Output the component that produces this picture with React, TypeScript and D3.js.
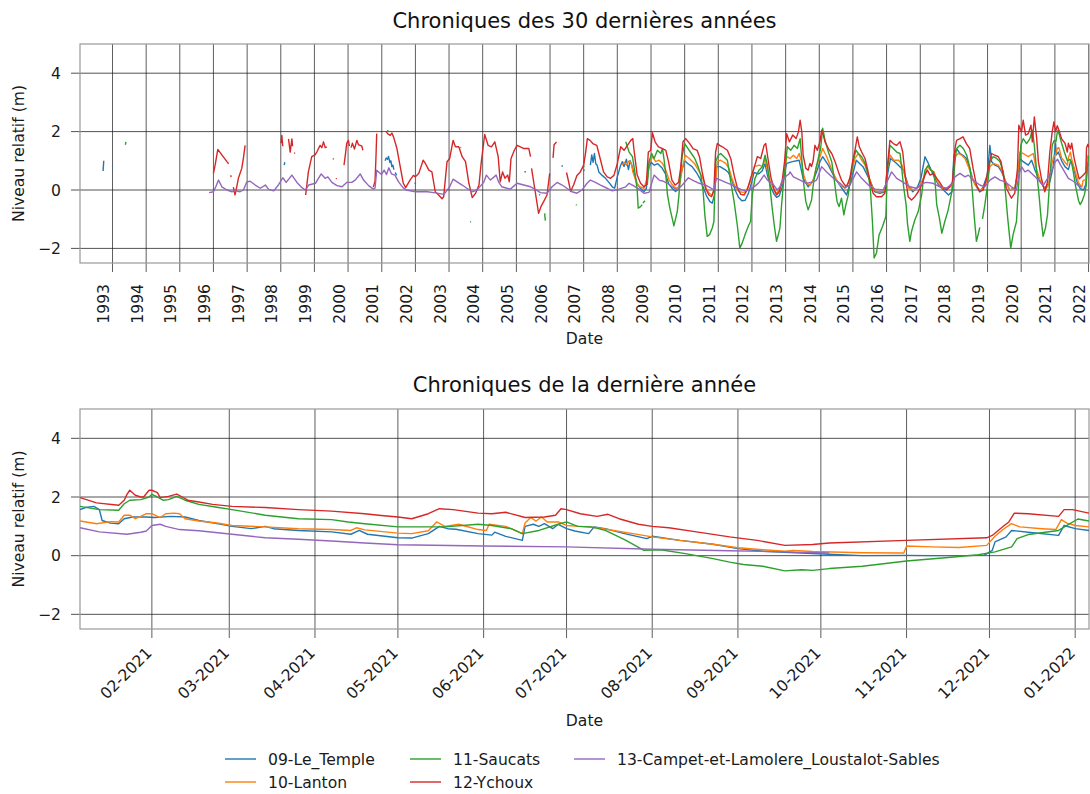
import React from "react";
import * as d3 from "d3";

type Pt = [number, number | null];
type DPt = [string, number];

// ---------- series names & colours ----------
const seriesNames = [
  "09-Le_Temple",
  "10-Lanton",
  "11-Saucats",
  "12-Ychoux",
  "13-Campet-et-Lamolere_Loustalot-Sables",
];
const seriesColors = ["#1f77b4", "#ff7f0e", "#2ca02c", "#d62728", "#9467bd"];

// ---------- axis ticks ----------
const yTicks = [-2, 0, 2, 4];
const yDomain = [-2.5, 5];
const topDomain = ["1992-01-14", "2022-01-06"];
const botDomain = ["2021-01-06", "2022-01-06"];

// ---------- 30-year chronicle (decimal year, level m; null = gap) ----------
const topBlue: Pt[] = [
  [1992.72, 0.65], [1992.74, 1.0], [1992.76, null], [1992.99, 0.8], [1993.01, 0.82], [1993.05, null],
  [1998.1, 0.85], [1998.12, 0.95], [1998.15, null],
  [2001.1, 1.0], [2001.13, 1.1], [2001.17, 1.05], [2001.2, 1.15], [2001.24, 0.95], [2001.27, 1.0], [2001.3, 0.8], [2001.33, 0.85], [2001.36, 0.7], [2001.38, null],
  [2001.4, 0.6], [2001.44, 0.5], [2001.46, null],
  [2001.98, 0.25], [2002.01, 0.2], [2002.05, null],
  [2005.25, 0.6], [2005.27, 0.65], [2005.29, null],
  [2005.68, -0.15], [2005.7, -0.18], [2005.72, null],
  [2006.35, 0.8], [2006.37, 0.85], [2006.39, null],
  [2007.0, 0.65], [2007.02, 0.7], [2007.05, null],
  [2007.2, 0.85], [2007.24, 1.2], [2007.28, 0.95], [2007.32, 1.25], [2007.36, 0.9], [2007.4, 0.85], [2007.45, 0.62], [2007.55, 0.5], [2007.65, 0.4], [2007.75, 0.26], [2007.85, 0.11], [2007.92, 0.06],
  [2008.0, 0.45], [2008.1, 0.85], [2008.15, 0.97], [2008.2, 0.8], [2008.27, 1.05], [2008.33, 0.7], [2008.38, 1.0], [2008.43, 0.85], [2008.49, 0.6], [2008.59, 0.2], [2008.69, 0.05], [2008.79, -0.05], [2008.86, 0.05], [2008.93, 0.75],
  [2009.0, 0.95], [2009.1, 0.85], [2009.2, 0.9], [2009.33, 0.75], [2009.43, 0.55], [2009.53, 0.2], [2009.63, 0.05], [2009.73, -0.05], [2009.82, 0.05], [2009.9, 0.6],
  [2010.0, 1.0], [2010.1, 0.9], [2010.22, 0.8], [2010.35, 0.6], [2010.45, 0.4], [2010.55, 0.1], [2010.65, -0.2], [2010.75, -0.4], [2010.82, -0.45], [2010.88, -0.2], [2010.95, 0.8],
  [2011.05, 0.8], [2011.2, 0.7], [2011.3, 0.6], [2011.4, 0.35], [2011.5, 0.0], [2011.6, -0.25], [2011.7, -0.37], [2011.8, -0.35], [2011.9, -0.1],
  [2012.0, 0.3], [2012.06, 0.6], [2012.2, 0.55], [2012.3, 0.65], [2012.39, 0.9], [2012.46, 0.5], [2012.56, 0.1], [2012.66, -0.15], [2012.73, -0.25], [2012.81, -0.2], [2012.9, 0.1],
  [2013.0, 0.75], [2013.03, 0.91], [2013.2, 0.97], [2013.4, 1.02], [2013.52, 0.4], [2013.67, 0.11], [2013.8, 0.3], [2013.92, 0.62],
  [2014.02, 0.97], [2014.1, 1.14], [2014.27, 0.85], [2014.47, 0.4], [2014.71, 0.0], [2014.81, -0.17], [2014.95, 0.34],
  [2015.1, 1.02], [2015.3, 0.8], [2015.5, 0.34], [2015.65, -0.06], [2015.8, -0.11], [2015.95, -0.06],
  [2016.06, 0.74], [2016.12, 1.08], [2016.3, 0.91], [2016.5, 0.68], [2016.64, 0.17], [2016.78, -0.06], [2016.92, 0.11],
  [2017.02, 0.4], [2017.14, 1.14], [2017.24, 0.91], [2017.39, 0.51], [2017.54, 0.17], [2017.69, 0.0], [2017.84, -0.17], [2017.94, -0.06],
  [2018.0, 1.19], [2018.08, 1.42], [2018.18, 1.25], [2018.27, 1.19], [2018.37, 1.08], [2018.47, 0.74], [2018.57, 0.34], [2018.67, 0.11], [2018.77, -0.06], [2018.87, 0.11], [2018.99, 0.51],
  [2019.07, 1.53], [2019.12, 0.97], [2019.22, 0.85], [2019.32, 0.8], [2019.42, 0.62], [2019.54, 0.28], [2019.66, 0.0], [2019.81, 0.06], [2019.91, 0.62], [2019.96, 1.08],
  [2020.06, 0.97], [2020.21, 0.85], [2020.31, 1.02], [2020.41, 0.68], [2020.56, 0.28], [2020.7, 0.06], [2020.85, 0.28], [2020.95, 0.8],
  [2021.02, 1.6], [2021.04, 1.2], [2021.1, 1.3], [2021.2, 1.0], [2021.3, 0.8], [2021.4, 0.7], [2021.47, 1.0], [2021.55, 0.8], [2021.65, 0.3], [2021.75, 0.05], [2021.85, 0.0], [2021.92, 0.2], [2021.96, 0.86], [2022.01, 0.86],
];

const topOrange: Pt[] = [
  [2008.15, 0.85], [2008.2, 0.95], [2008.27, 0.85], [2008.35, 1.0], [2008.42, 0.9], [2008.46, 0.62], [2008.56, 0.28], [2008.66, 0.11], [2008.79, 0.06], [2008.89, 0.4], [2008.96, 0.97],
  [2009.04, 1.14], [2009.14, 0.97], [2009.24, 1.02], [2009.34, 0.91], [2009.44, 0.68], [2009.54, 0.34], [2009.64, 0.17], [2009.74, 0.06], [2009.84, 0.11], [2009.93, 0.74],
  [2010.02, 1.19], [2010.14, 1.08], [2010.29, 0.91], [2010.44, 0.62], [2010.54, 0.4], [2010.64, 0.06], [2010.73, -0.11], [2010.81, -0.17], [2010.9, 0.06], [2010.97, 0.97],
  [2011.07, 1.02], [2011.22, 0.91], [2011.32, 0.74], [2011.42, 0.34], [2011.52, 0.06], [2011.62, -0.06], [2011.77, -0.08], [2011.87, 0.06], [2011.97, 0.34],
  [2012.07, 0.8], [2012.22, 0.85], [2012.32, 0.8], [2012.39, 1.08], [2012.46, 0.68], [2012.56, 0.23], [2012.66, 0.0], [2012.73, -0.11], [2012.81, 0.0], [2012.91, 0.28],
  [2013.0, 0.91], [2013.03, 1.14], [2013.13, 1.08], [2013.23, 1.19], [2013.33, 1.08], [2013.4, 1.25], [2013.47, 0.97], [2013.54, 0.51], [2013.62, 0.23], [2013.72, 0.17], [2013.82, 0.34], [2013.92, 0.8],
  [2014.02, 1.14], [2014.1, 1.42], [2014.22, 1.14], [2014.32, 0.85], [2014.42, 0.57], [2014.52, 0.34], [2014.62, 0.17], [2014.76, 0.06], [2014.86, 0.23], [2014.96, 0.62],
  [2015.06, 1.08], [2015.16, 1.25], [2015.26, 1.02], [2015.36, 0.85], [2015.46, 0.51], [2015.59, 0.06], [2015.71, -0.06], [2015.86, -0.06], [2015.96, 0.0],
  [2016.03, 0.85], [2016.11, 1.19], [2016.21, 1.02], [2016.36, 1.02], [2016.46, 0.85], [2016.56, 0.4], [2016.66, 0.06], [2016.81, 0.0], [2016.96, 0.11],
  [2017.11, 0.45], [2017.21, 0.8], [2017.31, 0.68], [2017.41, 0.62], [2017.51, 0.28], [2017.66, 0.06], [2017.81, 0.06], [2017.96, 0.17],
  [2018.03, 1.14], [2018.13, 1.25], [2018.23, 1.19], [2018.33, 1.08], [2018.43, 0.8], [2018.53, 0.45], [2018.63, 0.17], [2018.77, 0.0], [2018.87, 0.06], [2018.97, 0.28],
  [2019.07, 0.8], [2019.17, 0.91], [2019.32, 0.85], [2019.42, 0.68], [2019.52, 0.34], [2019.66, 0.0], [2019.81, 0.06], [2019.91, 0.68], [2019.96, 1.3],
  [2020.06, 1.25], [2020.21, 1.14], [2020.36, 1.25], [2020.43, 0.8], [2020.56, 0.34], [2020.71, 0.0], [2020.81, 0.17], [2020.89, 0.8], [2020.96, 1.14],
  [2021.02, 1.2], [2021.07, 1.43], [2021.12, 1.45], [2021.2, 1.1], [2021.3, 0.95], [2021.37, 0.85], [2021.4, 1.1], [2021.46, 1.3], [2021.5, 1.05], [2021.6, 0.65], [2021.7, 0.25], [2021.8, 0.1], [2021.84, 0.33], [2021.92, 0.35], [2021.95, 1.05], [2021.99, 1.2], [2022.01, 0.98],
];

const topGreen: Pt[] = [
  [1993.38, 1.55], [1993.4, 1.65], [1993.42, null],
  [2001.17, 2.0], [2001.19, 2.05], [2001.21, null],
  [2003.34, 1.44], [2003.36, 1.46], [2003.38, null],
  [2003.63, -1.1], [2003.65, -1.08], [2003.67, null],
  [2005.84, -0.8], [2005.86, -1.05], [2005.88, null],
  [2006.77, -0.5], [2006.79, -0.52], [2006.81, null],
  [2007.0, 0.8], [2007.02, 0.82], [2007.05, null],
  [2008.25, 1.65], [2008.35, 1.3], [2008.45, 1.14], [2008.52, 0.62], [2008.59, 0.0], [2008.62, -0.62], [2008.69, -0.57], [2008.74, -0.5], [2008.75, null],
  [2008.76, -0.45], [2008.82, -0.37], [2008.85, null],
  [2008.89, 0.17], [2008.94, 0.97], [2009.02, 1.25], [2009.09, 1.08], [2009.19, 1.36], [2009.29, 1.25], [2009.34, 1.42], [2009.39, 1.02], [2009.44, 0.51], [2009.49, -0.17], [2009.56, -0.62], [2009.63, -0.97], [2009.68, -1.23], [2009.78, -0.74], [2009.83, -0.17], [2009.88, 0.62], [2009.93, 1.19],
  [2010.0, 1.59], [2010.1, 1.42], [2010.2, 1.25], [2010.3, 1.08], [2010.4, 0.8], [2010.48, 0.51], [2010.55, -0.06], [2010.6, -0.85], [2010.67, -1.59], [2010.74, -1.53], [2010.82, -1.3], [2010.87, -1.08], [2010.92, 0.97],
  [2011.0, 1.19], [2011.07, 1.25], [2011.17, 1.14], [2011.27, 1.02], [2011.37, 0.28], [2011.47, -0.4], [2011.57, -1.25], [2011.64, -1.99], [2011.71, -1.82], [2011.81, -1.48], [2011.91, -1.19], [2011.96, -1.08],
  [2012.01, -0.17], [2012.09, 0.4], [2012.21, 0.68], [2012.31, 0.8], [2012.39, 1.19], [2012.46, 0.85], [2012.51, 0.4], [2012.59, -0.51], [2012.66, -1.19], [2012.73, -1.76], [2012.79, -1.5], [2012.83, -1.3], [2012.88, -0.5], [2012.93, 0.17], [2012.98, 0.74],
  [2013.05, 1.48], [2013.15, 1.36], [2013.25, 1.53], [2013.35, 1.42], [2013.43, 1.76], [2013.47, 1.19], [2013.54, 0.17], [2013.6, -0.4], [2013.67, -0.68], [2013.77, -0.34], [2013.82, 0.17], [2013.9, 0.74], [2013.97, 1.08],
  [2014.04, 1.42], [2014.1, 2.12], [2014.17, 1.71], [2014.27, 1.3], [2014.37, 0.97], [2014.44, 0.4], [2014.5, -0.17], [2014.53, -0.4], [2014.59, -0.57], [2014.66, -0.28], [2014.73, -0.85], [2014.79, -0.51], [2014.86, -0.17], [2014.93, 0.4],
  [2015.01, 1.02], [2015.09, 1.36], [2015.16, 1.25], [2015.26, 1.14], [2015.36, 0.91], [2015.46, 0.51], [2015.52, 0.0], [2015.58, -1.08], [2015.63, -2.33], [2015.7, -2.16], [2015.78, -1.53], [2015.88, -1.25], [2015.98, -0.91],
  [2016.02, 0.62], [2016.1, 1.53], [2016.2, 1.42], [2016.3, 1.3], [2016.4, 1.25], [2016.45, 0.74], [2016.5, 0.17], [2016.58, -0.51], [2016.62, -1.14], [2016.69, -1.76], [2016.74, -1.42], [2016.84, -1.02], [2016.94, -0.74],
  [2017.04, -0.17], [2017.09, 0.34], [2017.14, 0.68], [2017.24, 0.85], [2017.31, 0.68], [2017.39, 0.62], [2017.44, 0.28], [2017.49, -0.51], [2017.57, -0.97], [2017.64, -1.48], [2017.73, -1.08], [2017.83, -0.68], [2017.9, -0.28], [2017.98, 0.17],
  [2018.03, 0.97], [2018.08, 1.42], [2018.18, 1.53], [2018.28, 1.42], [2018.38, 1.19], [2018.48, 0.74], [2018.55, -0.06], [2018.6, -0.85], [2018.67, -1.76], [2018.72, -1.53], [2018.77, -1.28], [2018.8, null],
  [2018.85, -0.99], [2018.92, -0.51], [2019.0, 0.17], [2019.07, 0.97], [2019.17, 1.14], [2019.27, 1.08], [2019.37, 0.97], [2019.47, 0.62], [2019.54, -0.17], [2019.6, -0.97], [2019.66, -1.65], [2019.69, -1.99], [2019.76, -1.53], [2019.86, -1.08], [2019.93, 0.28], [2019.99, 1.53],
  [2020.06, 1.76], [2020.16, 1.59], [2020.26, 1.76], [2020.33, 2.05], [2020.39, 1.53], [2020.46, 0.62], [2020.53, -0.17], [2020.59, -0.97], [2020.65, -1.59], [2020.72, -1.3], [2020.78, -0.85], [2020.85, 0.4], [2020.92, 1.53], [2020.98, 1.7],
  [2021.03, 1.65], [2021.06, 1.9], [2021.09, 2.05], [2021.13, 1.9], [2021.2, 1.6], [2021.28, 1.3], [2021.37, 1.0], [2021.45, 1.05], [2021.5, 0.9], [2021.55, 0.6], [2021.62, 0.1], [2021.7, -0.35], [2021.75, -0.5], [2021.8, -0.4], [2021.88, -0.15], [2021.93, 0.15], [2021.97, 0.85], [2022.01, 1.2],
];

const topRed: Pt[] = [
  [1996.0, 0.57], [1996.05, 0.85], [1996.13, 1.39], [1996.25, 1.2], [1996.4, 0.97], [1996.45, 0.9], [1996.47, null],
  [1996.51, 0.5], [1996.53, 0.45], [1996.55, null],
  [1996.59, 0.1], [1996.64, -0.17], [1996.69, 0.1], [1996.74, 0.4], [1996.84, 0.74], [1996.89, 1.1], [1996.94, 1.53], [1996.96, null],
  [1998.01, 1.6], [1998.03, 1.87], [1998.06, 1.5], [1998.1, null],
  [1998.23, 1.75], [1998.28, 1.3], [1998.33, 1.75], [1998.35, 1.5], [1998.37, null],
  [1998.4, 1.25], [1998.42, 1.28], [1998.5, null],
  [1998.74, -0.17], [1998.82, 0.62], [1998.92, 1.14], [1999.02, 1.2], [1999.07, 1.3], [1999.17, 1.53], [1999.22, 1.45], [1999.27, 1.65], [1999.32, 1.45], [1999.37, 1.48], [1999.4, null],
  [1999.55, 1.08], [1999.57, 1.05], [1999.6, null],
  [1999.64, 0.4], [1999.66, 0.38], [1999.7, null],
  [1999.88, 0.85], [1999.93, 1.3], [1999.96, 1.6], [2000.01, 1.7], [2000.04, 1.5], [2000.06, null],
  [2000.09, 1.45], [2000.13, 1.6], [2000.19, 1.4], [2000.26, 1.7], [2000.31, 1.55], [2000.36, 1.53], [2000.41, 1.5], [2000.44, 1.36], [2000.5, null],
  [2000.75, 0.1], [2000.8, 0.3], [2000.83, 1.2], [2000.85, 1.93], [2000.9, null],
  [2001.13, 2.0], [2001.18, 1.92], [2001.25, 1.87], [2001.3, 1.95], [2001.35, 1.82], [2001.45, 1.42], [2001.54, 0.85], [2001.64, 0.23], [2001.71, 0.08], [2001.84, 0.34], [2001.94, 0.5],
  [2002.0, 0.45], [2002.1, 0.57], [2002.23, 1.02], [2002.3, 0.9], [2002.4, 0.68], [2002.49, 0.62], [2002.59, -0.06], [2002.69, -0.17], [2002.79, -0.3], [2002.84, -0.23], [2002.94, 0.97],
  [2003.02, 1.08], [2003.12, 1.7], [2003.19, 1.48], [2003.29, 1.48], [2003.39, 1.14], [2003.49, 0.97], [2003.59, 0.23], [2003.69, -0.26], [2003.79, -0.11], [2003.89, 0.17], [2003.96, 0.97],
  [2004.06, 1.9], [2004.16, 1.53], [2004.26, 1.48], [2004.36, 1.65], [2004.46, 1.14], [2004.52, 0.28], [2004.59, 0.62], [2004.66, 0.4], [2004.74, 0.51], [2004.79, 0.28], [2004.84, 1.08], [2004.94, 1.36],
  [2005.02, 1.53], [2005.12, 1.48], [2005.22, 1.42], [2005.37, 1.42], [2005.42, 1.14], [2005.43, null],
  [2005.45, 0.74], [2005.56, -0.06], [2005.66, -0.8], [2005.73, -0.57], [2005.81, -0.4], [2005.91, -0.17], [2005.99, 0.57], [2006.02, null],
  [2006.09, 1.1], [2006.12, 1.55], [2006.16, 1.6], [2006.19, 1.65], [2006.22, null],
  [2006.49, 0.6], [2006.55, 0.3], [2006.61, -0.05], [2006.7, 0.17], [2006.8, 0.5], [2006.9, 0.62],
  [2007.0, 0.85], [2007.06, 1.3], [2007.11, 1.76], [2007.19, 1.7], [2007.27, 1.59], [2007.39, 1.53], [2007.49, 1.08], [2007.59, 0.62], [2007.7, 0.45], [2007.8, 0.4], [2007.9, 0.5],
  [2008.0, 0.9], [2008.1, 1.48], [2008.2, 1.36], [2008.3, 1.53], [2008.4, 1.7], [2008.46, 1.76], [2008.49, 1.42], [2008.59, 0.51], [2008.69, 0.23], [2008.79, 0.11], [2008.86, 0.17], [2008.92, 1.3], [2008.99, 1.36],
  [2009.04, 1.96], [2009.12, 1.65], [2009.22, 1.48], [2009.34, 1.42], [2009.44, 1.36], [2009.52, 0.97], [2009.62, 0.34], [2009.72, 0.17], [2009.82, 0.26], [2009.88, 0.74], [2009.95, 1.65],
  [2010.03, 1.76], [2010.15, 1.59], [2010.25, 1.42], [2010.37, 1.36], [2010.44, 1.14], [2010.52, 0.62], [2010.62, 0.06], [2010.72, -0.17], [2010.8, -0.23], [2010.87, 0.0], [2010.92, 1.3], [2010.97, 1.59],
  [2011.04, 1.53], [2011.12, 1.48], [2011.27, 1.36], [2011.37, 1.08], [2011.47, 0.51], [2011.57, 0.06], [2011.67, -0.15], [2011.77, -0.17], [2011.86, 0.0], [2011.96, 0.4],
  [2012.06, 0.74], [2012.16, 1.14], [2012.26, 1.08], [2012.36, 1.53], [2012.41, 1.59], [2012.46, 1.19], [2012.56, 0.45], [2012.66, 0.0], [2012.73, -0.17], [2012.81, -0.06], [2012.9, 0.34], [2012.97, 1.0],
  [2013.03, 1.93], [2013.11, 1.65], [2013.21, 1.88], [2013.31, 1.76], [2013.38, 1.99], [2013.43, 2.39], [2013.48, 1.99], [2013.52, 1.19], [2013.6, 0.74], [2013.67, 0.68], [2013.72, 0.91], [2013.77, 0.8], [2013.82, 1.02], [2013.87, 1.53], [2013.94, 1.36],
  [2014.02, 1.65], [2014.07, 2.05], [2014.12, 1.88], [2014.17, 1.65], [2014.27, 1.42], [2014.37, 1.25], [2014.47, 0.97], [2014.57, 0.62], [2014.66, 0.34], [2014.76, 0.17], [2014.81, 0.11], [2014.91, 0.4], [2014.99, 0.97],
  [2015.06, 1.36], [2015.13, 1.82], [2015.19, 1.48], [2015.26, 1.3], [2015.36, 1.08], [2015.43, 0.74], [2015.5, 0.34], [2015.6, -0.11], [2015.7, -0.23], [2015.85, -0.23], [2015.95, -0.11],
  [2016.02, 0.74], [2016.1, 1.7], [2016.2, 1.59], [2016.3, 1.53], [2016.4, 1.65], [2016.48, 1.3], [2016.55, 0.51], [2016.64, -0.23], [2016.74, -0.34], [2016.84, -0.23], [2016.94, -0.06],
  [2017.04, 0.17], [2017.14, 0.51], [2017.21, 0.68], [2017.29, 0.51], [2017.39, 0.57], [2017.49, 0.4], [2017.57, 0.28], [2017.69, 0.06], [2017.78, 0.0], [2017.88, 0.11], [2017.96, 0.28],
  [2018.03, 1.42], [2018.08, 1.7], [2018.18, 1.76], [2018.27, 1.82], [2018.37, 1.59], [2018.47, 1.42], [2018.57, 0.74], [2018.67, 0.17], [2018.77, -0.06], [2018.87, 0.0], [2018.97, 0.4],
  [2019.05, 0.91], [2019.12, 1.25], [2019.22, 1.19], [2019.32, 1.14], [2019.4, 0.97], [2019.47, 0.51], [2019.56, 0.06], [2019.66, -0.17], [2019.71, -0.28], [2019.81, -0.11], [2019.89, 0.74], [2019.93, 2.22],
  [2020.01, 1.99], [2020.06, 2.39], [2020.13, 1.88], [2020.21, 1.93], [2020.29, 2.22], [2020.33, 1.65], [2020.39, 2.5], [2020.46, 1.76], [2020.51, 0.97], [2020.6, 0.4], [2020.7, -0.06], [2020.78, 0.28], [2020.85, 1.3], [2020.92, 1.99], [2020.97, 2.33],
  [2021.02, 2.0], [2021.07, 2.2], [2021.12, 2.05], [2021.2, 1.75], [2021.3, 1.6], [2021.37, 1.3], [2021.4, 1.6], [2021.46, 1.4], [2021.5, 1.6], [2021.57, 1.1], [2021.65, 0.7], [2021.72, 0.38], [2021.83, 0.5], [2021.92, 0.61], [2021.94, 1.45], [2021.98, 1.57], [2022.01, 1.45],
];

const topPurple: Pt[] = [
  [1995.87, -0.09], [1996.0, -0.06], [1996.07, 0.11], [1996.15, 0.34], [1996.25, 0.11], [1996.4, 0.0], [1996.55, -0.06], [1996.64, -0.03], [1996.79, -0.06], [1996.89, 0.0], [1996.99, 0.28],
  [1997.09, 0.3], [1997.24, 0.17], [1997.39, 0.06], [1997.54, 0.17], [1997.64, 0.02], [1997.79, -0.03], [1997.94, 0.19],
  [1998.06, 0.42], [1998.16, 0.26], [1998.33, 0.51], [1998.48, 0.26], [1998.63, 0.08], [1998.73, 0.0], [1998.83, 0.17],
  [1999.03, 0.23], [1999.2, 0.55], [1999.32, 0.4], [1999.4, 0.45], [1999.52, 0.26], [1999.67, 0.15], [1999.82, 0.11], [1999.96, 0.26],
  [2000.11, 0.26], [2000.21, 0.34], [2000.36, 0.55], [2000.46, 0.34], [2000.61, 0.15], [2000.75, 0.03], [2000.8, 0.06], [2000.85, 0.68], [2000.99, 0.53],
  [2001.07, 0.68], [2001.14, 0.53], [2001.21, 0.76], [2001.29, 0.55], [2001.39, 0.51], [2001.5, 0.28], [2001.63, 0.08], [2001.73, 0.0],
  [2002.0, -0.06], [2002.3, -0.05], [2002.6, -0.1], [2002.85, -0.15],
  [2003.02, 0.11], [2003.12, 0.37], [2003.24, 0.28], [2003.39, 0.17], [2003.53, 0.06], [2003.68, -0.06], [2003.83, 0.0],
  [2004.03, 0.26], [2004.11, 0.51], [2004.23, 0.34], [2004.4, 0.51], [2004.47, 0.28], [2004.57, 0.11], [2004.72, 0.06], [2004.82, 0.03],
  [2005.02, 0.23], [2005.22, 0.17], [2005.42, 0.11], [2005.57, 0.02], [2005.71, -0.09], [2005.91, -0.11],
  [2006.06, 0.11], [2006.21, 0.26], [2006.36, 0.17], [2006.5, 0.06], [2006.65, -0.06], [2006.8, -0.11], [2006.95, 0.0],
  [2007.1, 0.23], [2007.2, 0.34], [2007.35, 0.26], [2007.5, 0.17], [2007.7, 0.06], [2007.85, -0.03],
  [2008.05, 0.03], [2008.25, 0.11], [2008.35, 0.23], [2008.45, 0.17], [2008.64, 0.03], [2008.79, -0.11], [2008.94, -0.08],
  [2009.09, 0.51], [2009.24, 0.34], [2009.34, 0.31], [2009.49, 0.23], [2009.63, 0.11], [2009.78, 0.0], [2009.93, 0.17],
  [2010.11, 0.42], [2010.23, 0.34], [2010.43, 0.23], [2010.58, 0.19], [2010.72, 0.11], [2010.87, 0.0], [2010.94, 0.4],
  [2011.07, 0.34], [2011.22, 0.26], [2011.37, 0.19], [2011.52, 0.11], [2011.67, 0.02], [2011.81, -0.03], [2011.96, 0.03],
  [2012.11, 0.15], [2012.21, 0.26], [2012.36, 0.51], [2012.46, 0.34], [2012.61, 0.23], [2012.75, 0.0], [2012.83, 0.1], [2012.93, 0.4],
  [2013.1, 0.55], [2013.13, 0.62], [2013.23, 0.45], [2013.43, 0.34], [2013.62, 0.23], [2013.82, 0.28], [2013.92, 0.34],
  [2014.07, 0.8], [2014.22, 0.62], [2014.42, 0.4], [2014.62, 0.23], [2014.76, 0.08], [2014.91, 0.17],
  [2015.11, 0.62], [2015.26, 0.4], [2015.46, 0.17], [2015.66, 0.03], [2015.9, 0.0],
  [2016.15, 0.62], [2016.3, 0.4], [2016.5, 0.26], [2016.69, 0.11], [2016.89, 0.06],
  [2017.08, 0.23], [2017.18, 0.26], [2017.38, 0.23], [2017.58, 0.11], [2017.78, 0.06], [2017.98, 0.26],
  [2018.03, 0.45], [2018.18, 0.57], [2018.33, 0.45], [2018.43, 0.51], [2018.57, 0.34], [2018.77, 0.17], [2018.92, 0.11],
  [2019.07, 0.34], [2019.22, 0.45], [2019.37, 0.34], [2019.52, 0.28], [2019.71, 0.11], [2019.86, 0.0], [2019.93, 0.51],
  [2020.01, 0.8], [2020.11, 0.62], [2020.21, 0.68], [2020.36, 0.51], [2020.51, 0.34], [2020.66, 0.17], [2020.81, 0.45], [2020.91, 0.68],
  [2021.0, 0.95], [2021.08, 1.05], [2021.17, 0.85], [2021.25, 0.7], [2021.4, 0.4], [2021.55, 0.3], [2021.7, 0.15], [2021.78, 0.1],
];

// ---------- last-year chronicle (date, level m) ----------
const botBlue: DPt[] = [
  ["2021-01-06", 1.57], ["2021-01-08", 1.64], ["2021-01-11", 1.68], ["2021-01-13", 1.57], ["2021-01-14", 1.2], ["2021-01-17", 1.11], ["2021-01-20", 1.09], ["2021-01-22", 1.26], ["2021-01-25", 1.32], ["2021-01-30", 1.32],
  ["2021-02-02", 1.3], ["2021-02-08", 1.34], ["2021-02-13", 1.32], ["2021-02-18", 1.2], ["2021-02-24", 1.1], ["2021-03-02", 1.0], ["2021-03-09", 0.92], ["2021-03-14", 1.0], ["2021-03-17", 0.92], ["2021-03-26", 0.86],
  ["2021-04-07", 0.81], ["2021-04-14", 0.73], ["2021-04-17", 0.86], ["2021-04-20", 0.73], ["2021-05-01", 0.61], ["2021-05-06", 0.6], ["2021-05-12", 0.75], ["2021-05-16", 1.0], ["2021-05-19", 0.92], ["2021-05-22", 0.9],
  ["2021-05-30", 0.75], ["2021-06-04", 0.7], ["2021-06-05", 0.8], ["2021-06-09", 0.66], ["2021-06-15", 0.52], ["2021-06-16", 1.0], ["2021-06-19", 1.07], ["2021-06-21", 1.0], ["2021-06-23", 1.09], ["2021-06-26", 0.92],
  ["2021-06-28", 1.07], ["2021-07-01", 0.92], ["2021-07-04", 0.84], ["2021-07-09", 0.75], ["2021-07-11", 0.98], ["2021-07-15", 0.92], ["2021-07-22", 0.75], ["2021-07-30", 0.58], ["2021-08-01", 0.66], ["2021-08-11", 0.52],
  ["2021-08-23", 0.39], ["2021-09-01", 0.24], ["2021-09-10", 0.15], ["2021-09-22", 0.1], ["2021-10-04", 0.05], ["2021-10-16", 0.0], ["2021-11-01", 0.01], ["2021-11-10", 0.0], ["2021-11-29", 0.01], ["2021-12-02", 0.18],
  ["2021-12-03", 0.47], ["2021-12-07", 0.64], ["2021-12-09", 0.86], ["2021-12-15", 0.8], ["2021-12-26", 0.69], ["2021-12-28", 1.03], ["2022-01-01", 0.92], ["2022-01-06", 0.86],
];

const botOrange: DPt[] = [
  ["2021-01-06", 1.18], ["2021-01-12", 1.09], ["2021-01-17", 1.16], ["2021-01-20", 1.15], ["2021-01-22", 1.38], ["2021-01-24", 1.38], ["2021-01-26", 1.26], ["2021-01-28", 1.34], ["2021-01-30", 1.43], ["2021-02-01", 1.43],
  ["2021-02-04", 1.3], ["2021-02-06", 1.43], ["2021-02-09", 1.45], ["2021-02-11", 1.43], ["2021-02-13", 1.26], ["2021-02-18", 1.18], ["2021-02-24", 1.12], ["2021-03-02", 1.03], ["2021-03-14", 0.98], ["2021-03-26", 0.92],
  ["2021-04-07", 0.89], ["2021-04-14", 0.86], ["2021-04-16", 0.95], ["2021-04-19", 0.88], ["2021-05-01", 0.77], ["2021-05-06", 0.75], ["2021-05-12", 0.85], ["2021-05-15", 1.15], ["2021-05-18", 1.0], ["2021-05-23", 1.07],
  ["2021-05-30", 0.89], ["2021-06-02", 0.86], ["2021-06-03", 1.07], ["2021-06-09", 1.0], ["2021-06-15", 0.75], ["2021-06-16", 1.11], ["2021-06-18", 1.3], ["2021-06-20", 1.18], ["2021-06-22", 1.32], ["2021-06-24", 1.15],
  ["2021-06-28", 1.15], ["2021-07-01", 1.03], ["2021-07-06", 1.0], ["2021-07-12", 0.95], ["2021-07-18", 0.86], ["2021-07-25", 0.75], ["2021-08-01", 0.64], ["2021-08-11", 0.52], ["2021-08-23", 0.39], ["2021-09-01", 0.27],
  ["2021-09-10", 0.2], ["2021-09-18", 0.15], ["2021-09-21", 0.18], ["2021-09-28", 0.14], ["2021-10-16", 0.1], ["2021-10-31", 0.09], ["2021-11-01", 0.33], ["2021-11-10", 0.3], ["2021-11-20", 0.28], ["2021-11-30", 0.35],
  ["2021-12-03", 0.66], ["2021-12-06", 0.9], ["2021-12-09", 1.09], ["2021-12-12", 0.98], ["2021-12-20", 0.92], ["2021-12-25", 0.89], ["2021-12-27", 1.23], ["2021-12-29", 1.11], ["2022-01-01", 1.03], ["2022-01-06", 0.98],
];

const botGreen: DPt[] = [
  ["2021-01-06", 1.68], ["2021-01-13", 1.57], ["2021-01-20", 1.55], ["2021-01-22", 1.77], ["2021-01-24", 1.89], ["2021-01-28", 1.91], ["2021-01-31", 2.0], ["2021-02-01", 2.09], ["2021-02-03", 2.0], ["2021-02-05", 1.89],
  ["2021-02-07", 1.91], ["2021-02-10", 2.02], ["2021-02-13", 1.89], ["2021-02-18", 1.75], ["2021-02-24", 1.66], ["2021-03-02", 1.57], ["2021-03-14", 1.38], ["2021-03-20", 1.32], ["2021-03-26", 1.26], ["2021-04-07", 1.23],
  ["2021-04-13", 1.15], ["2021-04-19", 1.09], ["2021-05-01", 0.98], ["2021-05-06", 0.98], ["2021-05-18", 0.98], ["2021-05-30", 1.07], ["2021-06-04", 1.03], ["2021-06-11", 0.92], ["2021-06-15", 0.75], ["2021-06-21", 0.86],
  ["2021-06-28", 1.07], ["2021-07-01", 1.15], ["2021-07-05", 1.0], ["2021-07-10", 0.98], ["2021-07-15", 0.86], ["2021-07-22", 0.55], ["2021-07-29", 0.18], ["2021-08-04", 0.2], ["2021-08-13", 0.07], ["2021-08-23", -0.1],
  ["2021-08-29", -0.22], ["2021-09-03", -0.3], ["2021-09-10", -0.36], ["2021-09-18", -0.52], ["2021-09-24", -0.48], ["2021-09-28", -0.5], ["2021-10-04", -0.44], ["2021-10-16", -0.36], ["2021-11-01", -0.18], ["2021-11-15", -0.07],
  ["2021-11-27", 0.03], ["2021-12-03", 0.13], ["2021-12-09", 0.3], ["2021-12-11", 0.58], ["2021-12-15", 0.72], ["2021-12-26", 0.86], ["2021-12-29", 1.03], ["2022-01-02", 1.25], ["2022-01-06", 1.18],
];

const botRed: DPt[] = [
  ["2021-01-06", 1.98], ["2021-01-12", 1.8], ["2021-01-20", 1.72], ["2021-01-22", 1.89], ["2021-01-23", 2.09], ["2021-01-24", 2.23], ["2021-01-26", 2.06], ["2021-01-28", 2.0], ["2021-01-29", 2.0], ["2021-01-31", 2.23],
  ["2021-02-01", 2.23], ["2021-02-03", 2.15], ["2021-02-04", 1.98], ["2021-02-07", 2.02], ["2021-02-10", 2.1], ["2021-02-12", 2.0], ["2021-02-14", 1.89], ["2021-02-18", 1.83], ["2021-02-23", 1.75], ["2021-03-02", 1.68],
  ["2021-03-14", 1.64], ["2021-03-26", 1.57], ["2021-04-07", 1.52], ["2021-04-19", 1.43], ["2021-04-24", 1.38], ["2021-05-01", 1.32], ["2021-05-06", 1.26], ["2021-05-12", 1.43], ["2021-05-16", 1.6], ["2021-05-21", 1.57],
  ["2021-05-30", 1.45], ["2021-06-04", 1.43], ["2021-06-09", 1.48], ["2021-06-16", 1.3], ["2021-06-23", 1.32], ["2021-06-27", 1.38], ["2021-06-29", 1.6], ["2021-07-01", 1.57], ["2021-07-06", 1.43], ["2021-07-12", 1.34],
  ["2021-07-16", 1.41], ["2021-07-20", 1.26], ["2021-07-27", 1.07], ["2021-08-01", 1.0], ["2021-08-07", 0.95], ["2021-08-17", 0.81], ["2021-08-29", 0.64], ["2021-09-08", 0.52], ["2021-09-18", 0.35], ["2021-09-28", 0.38],
  ["2021-10-04", 0.43], ["2021-11-01", 0.52], ["2021-11-30", 0.61], ["2021-12-02", 0.69], ["2021-12-06", 1.0], ["2021-12-08", 1.15], ["2021-12-10", 1.45], ["2021-12-15", 1.43], ["2021-12-26", 1.34], ["2021-12-28", 1.57],
  ["2021-12-31", 1.57], ["2022-01-06", 1.45],
];

const botPurple: DPt[] = [
  ["2021-01-06", 0.95], ["2021-01-13", 0.81], ["2021-01-23", 0.73], ["2021-01-28", 0.8], ["2021-01-30", 0.84], ["2021-02-01", 1.03], ["2021-02-04", 1.07], ["2021-02-06", 1.0], ["2021-02-11", 0.89], ["2021-02-18", 0.85],
  ["2021-03-02", 0.73], ["2021-03-14", 0.61], ["2021-03-26", 0.56], ["2021-04-07", 0.5], ["2021-04-19", 0.43], ["2021-05-01", 0.37], ["2021-06-01", 0.33], ["2021-07-01", 0.3], ["2021-08-01", 0.22], ["2021-08-29", 0.17],
  ["2021-09-18", 0.13], ["2021-10-04", 0.09],
];

// ---------- helpers ----------
const parseDay = d3.utcParse("%Y-%m-%d");
function decYear(t: number): Date {
  const y = Math.floor(t);
  const s = Date.UTC(y, 0, 1);
  const e = Date.UTC(y + 1, 0, 1);
  return new Date(s + (t - y) * (e - s));
}

const FONT = "DejaVu Sans";
const GRID = "#1a1a1a";
const FS = 15.6;
const TITLE_FS = 21;

type Row = { date: Date; v: number | null };

function Panel(props: {
  top: number;
  bottom: number;
  left: number;
  right: number;
  domain: Date[];
  xTicks: Date[];
  fmt: (d: Date) => string;
  rot: number;
  title: string;
  titleY: number;
  dateY: number;
  series: Row[][];
  id: string;
}) {
  const { top, bottom, left, right, domain, xTicks, fmt, rot, title, titleY, dateY, series, id } = props;
  const x = d3.scaleUtc().domain(domain).range([left, right]);
  const y = d3.scaleLinear().domain(yDomain).range([bottom, top]);
  const line = d3
    .line<Row>()
    .defined((d) => d.v !== null)
    .x((d) => x(d.date))
    .y((d) => y(d.v as number));
  const cx = (left + right) / 2;
  const cy = (top + bottom) / 2;
  return (
    <g>
      <defs>
        <clipPath id={id}>
          <rect x={left} y={top} width={right - left} height={bottom - top} />
        </clipPath>
      </defs>
      {yTicks.map((t) => (
        <g key={"y" + t}>
          <line x1={left - 9} x2={right} y1={y(t)} y2={y(t)} stroke={GRID} strokeOpacity={0.75} strokeWidth={1} />
          <text x={61} y={y(t)} dy="0.36em" textAnchor="end" fontSize={FS} fill="#1a1a1a">
            {t < 0 ? "\u2212" + Math.abs(t) : String(t)}
          </text>
        </g>
      ))}
      {xTicks.map((t, i) => {
        const px = x(t);
        return (
          <g key={"x" + i}>
            <line x1={px} x2={px} y1={top} y2={bottom + 9} stroke={GRID} strokeOpacity={0.7} strokeWidth={1} />
            {rot === 90 ? (
              <text transform={`translate(${px - 3.5},${bottom + 21}) rotate(-90)`} textAnchor="end" fontSize={FS} fill="#1a1a1a">
                {fmt(t)}
              </text>
            ) : (
              <text transform={`translate(${px + 1},${bottom + 25}) rotate(-45)`} textAnchor="end" fontSize={FS} fill="#1a1a1a">
                {fmt(t)}
              </text>
            )}
          </g>
        );
      })}
      <rect x={left} y={top} width={right - left} height={bottom - top} fill="none" stroke="#999" strokeWidth={1.2} />
      <g clipPath={`url(#${id})`}>
        {series.map((s, i) => (
          <path key={i} d={line(s) || ""} fill="none" stroke={seriesColors[i]} strokeWidth={1.4} strokeLinejoin="round" />
        ))}
      </g>
      <text x={cx} y={titleY} textAnchor="middle" fontSize={TITLE_FS} fill="#111">
        {title}
      </text>
      <text x={cx} y={dateY} textAnchor="middle" fontSize={FS} fill="#1a1a1a">
        Date
      </text>
      <text transform={`translate(24,${cy}) rotate(-90)`} textAnchor="middle" fontSize={FS} fill="#1a1a1a">
        Niveau relatif (m)
      </text>
    </g>
  );
}

export default function App() {
  const W = 1090;
  const H = 794;

  const topSeries: Row[][] = [topBlue, topOrange, topGreen, topRed, topPurple].map((arr) =>
    arr.map(([t, v]) => ({ date: decYear(t), v }))
  );
  const botSeries: Row[][] = [botBlue, botOrange, botGreen, botRed, botPurple].map((arr) =>
    arr.map(([d, v]) => ({ date: parseDay(d) as Date, v }))
  );

  const tDom = topDomain.map((d) => parseDay(d) as Date);
  const bDom = botDomain.map((d) => parseDay(d) as Date);
  const topTicks = d3.utcYear.range(d3.utcYear.ceil(tDom[0]), tDom[1]);
  const botTicks = d3.utcMonth.range(d3.utcMonth.ceil(bDom[0]), bDom[1]);

  const legendTextX = [268, 453, 617];
  const legendRows = [759, 782];

  return (
    <svg
      width={W}
      height={H}
      style={{ position: "absolute", left: 0, top: 0, background: "#fff" }}
      fontFamily={FONT}
    >
      <rect width={W} height={H} fill="#fff" />
      <Panel
        id="clipTop"
        top={44}
        bottom={263}
        left={80}
        right={1089}
        domain={tDom}
        xTicks={topTicks}
        fmt={d3.utcFormat("%Y")}
        rot={90}
        title="Chroniques des 30 dernières années"
        titleY={28}
        dateY={344}
        series={topSeries}
      />
      <Panel
        id="clipBot"
        top={409}
        bottom={629}
        left={80}
        right={1089}
        domain={bDom}
        xTicks={botTicks}
        fmt={d3.utcFormat("%m-%Y")}
        rot={45}
        title="Chroniques de la dernière année"
        titleY={392}
        dateY={726}
        series={botSeries}
      />
      {seriesNames.map((name, i) => {
        const col = Math.floor(i / 2);
        const row = i % 2;
        const tx = legendTextX[col];
        const ly = legendRows[row];
        return (
          <g key={name}>
            <line x1={tx - 43} x2={tx - 12} y1={ly} y2={ly} stroke={seriesColors[i]} strokeWidth={1.4} />
            <text x={tx} y={ly} dy="0.36em" fontSize={FS} fill="#1a1a1a">
              {name}
            </text>
          </g>
        );
      })}
    </svg>
  );
}
